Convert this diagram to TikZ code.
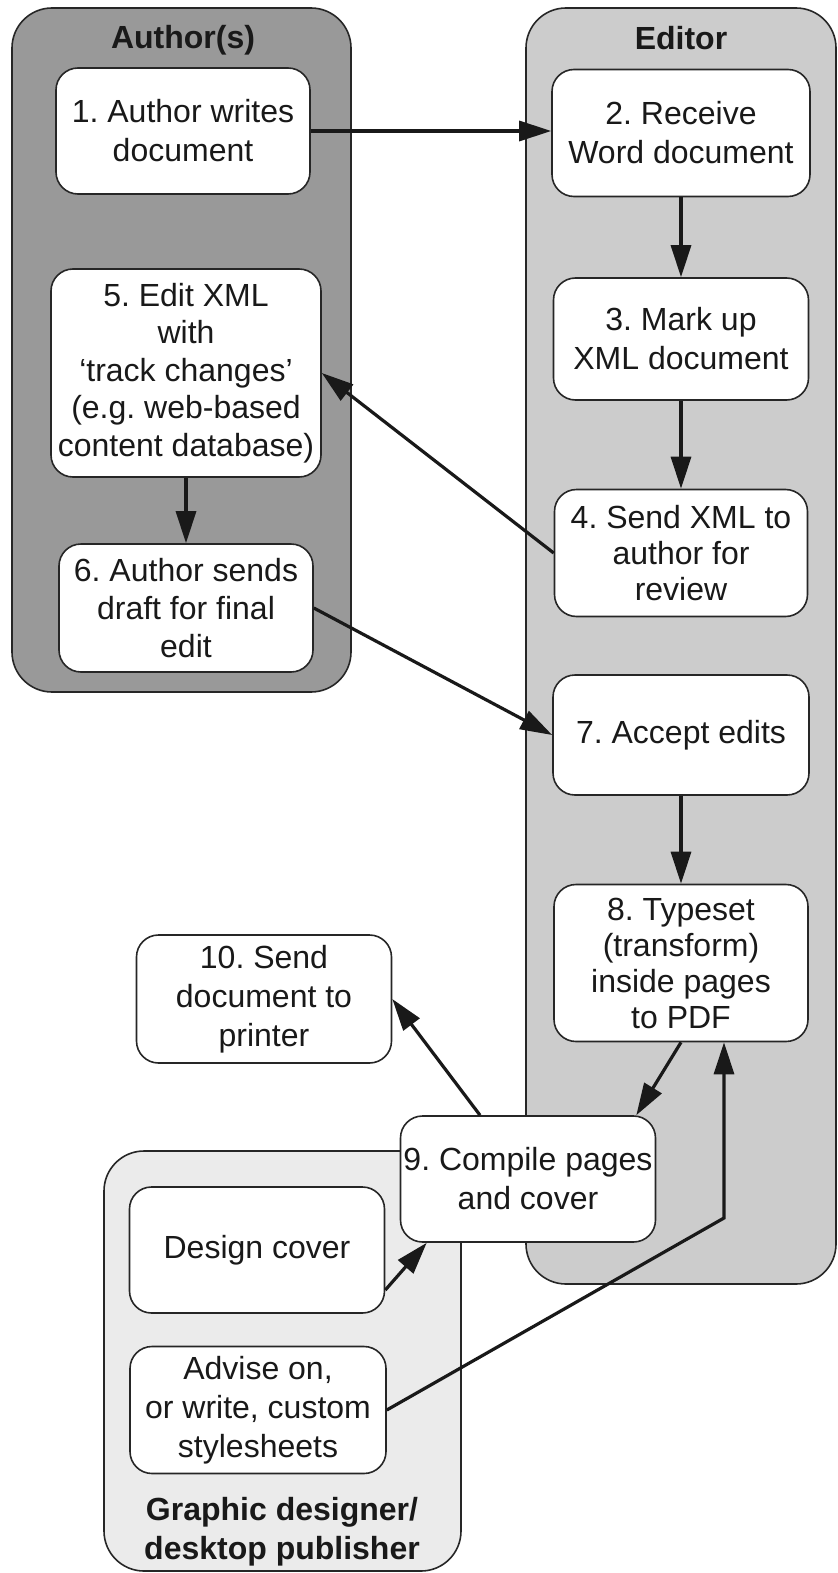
\documentclass[tikz,border=0pt]{standalone}
\usepackage{fontspec}
\setmainfont{Liberation Sans}
\usetikzlibrary{arrows.meta,calc}
\begin{document}
\frenchspacing
\begin{tikzpicture}[x=0.5pt,y=-0.5pt,
  group/.style={draw=black!85, line width=0.8pt, rounded corners=20pt},
  stepbox/.style={draw=black!85, fill=white, line width=0.8pt, rounded corners=11pt, align=center, inner sep=1pt, font=\fontsize{16pt}{18pt}\selectfont, text=black!90},
  wide/.style={font=\fontsize{16pt}{19.5pt}\selectfont},
  grouptitle/.style={font=\bfseries\fontsize{16pt}{19.5pt}\selectfont, align=center, text=black!90},
  flow/.style={line width=1.6pt, draw=black!90, -{Triangle[length=16pt,width=10pt]}}]
\useasboundingbox (0,0) rectangle (838,1573);
% group boxes
\draw[group, fill=black!40] (12,8) rectangle (351,692);
\draw[group, fill=black!20] (526,8) rectangle (836,1284);
\draw[group, fill=black!8] (104,1151) rectangle (461,1571);
\node[grouptitle] (tauth) at (183,40) {Author(s)};
\node[grouptitle] (tedit) at (681,38) {Editor};
\node[grouptitle] (tgraph) at (282,1532) {Graphic designer/\\desktop publisher};
% steps
\node[stepbox, wide, minimum width=127pt, minimum height=63pt] (n1) at (183,131) {1. Author writes\\document};
\node[stepbox, wide, minimum width=129pt, minimum height=63.5pt] (n2) at (681,133) {2. Receive\\Word document};
\node[stepbox, wide, minimum width=127.5pt, minimum height=61pt] (n3) at (681,339) {3. Mark up\\XML document};
\node[stepbox, minimum width=126.5pt, minimum height=63.5pt] (n4) at (681,553) {4. Send XML to\\author for\\review};
\node[stepbox, font=\fontsize{16pt}{18.7pt}\selectfont, minimum width=135pt, minimum height=104pt] (n5) at (186,373) {5. Edit XML\\with\\‘track changes’\\(e.g. web-based\\content database)};
\node[stepbox, font=\fontsize{16pt}{19pt}\selectfont, minimum width=127pt, minimum height=64pt] (n6) at (186,608) {6. Author sends\\draft for final\\edit};
\node[stepbox, minimum width=128pt, minimum height=60pt] (n7) at (681,735) {7. Accept edits};
\node[stepbox, minimum width=127pt, minimum height=78.5pt] (n8) at (681,963) {8. Typeset\\(transform)\\inside pages\\to PDF};
\node[stepbox, font=\fontsize{16pt}{19.5pt}\selectfont, minimum width=127.5pt, minimum height=64pt] (n10) at (264,999) {10. Send\\document to\\printer};
\node[stepbox, font=\fontsize{16pt}{19.5pt}\selectfont, minimum width=127.5pt, minimum height=63pt] (n9) at (528,1179) {9. Compile pages\\and cover};
\node[stepbox, minimum width=127.5pt, minimum height=63pt] (nd) at (257,1250) {Design cover};
\node[stepbox, font=\fontsize{16pt}{19.5pt}\selectfont, minimum width=128pt, minimum height=63.5pt] (na) at (258,1410) {Advise on,\\or write, custom\\stylesheets};
% connectors
\draw[flow] (n1.east) -- (n1.east -| n2.west);
\draw[flow] (n2.south) -- (n3.north);
\draw[flow] (n3.south) -- (n4.north);
\draw[flow] (n4.west) -- (n5.east);
\draw[flow] (n5.south) -- (n6.north);
\draw[flow] (n6.east) -- (n7.west);
\draw[flow] (n7.south) -- (n8.north);
\draw[flow] (n8.south) -- ([xshift=-10pt]n9.north east);
\draw[flow] ([xshift=-24pt]n9.north) -- (n10.east);
\draw[flow] ([yshift=-20pt]nd.east) -- ([xshift=13.5pt]n9.south west);
\coordinate (bend) at (724,1218);
\draw[flow] (na.east) -- (bend) -- (bend |- n8.south);
\end{tikzpicture}
\end{document}
